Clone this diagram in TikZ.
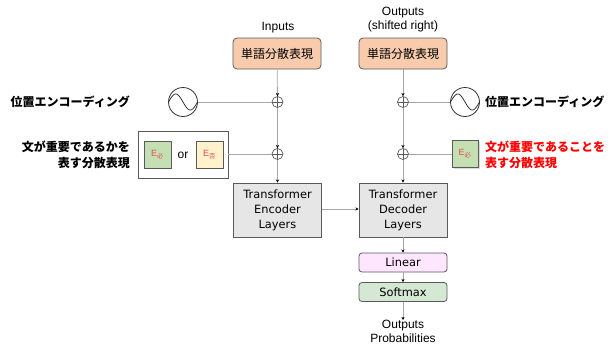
\documentclass[tikz,border=0pt]{standalone}
\usepackage{fontspec}
\setmainfont{Liberation Sans}
\newfontfamily\boxfont{DejaVu Sans}
\newfontfamily\jp{Noto Sans CJK JP}
\usetikzlibrary{arrows.meta,shapes.geometric}

\definecolor{wordfill}{HTML}{F8CBAD}
\definecolor{layerfill}{HTML}{E6E6E6}
\definecolor{linfill}{HTML}{FFE6FF}
\definecolor{softfill}{HTML}{D5E8D4}
\definecolor{yesfill}{HTML}{C5DFB4}
\definecolor{nofill}{HTML}{FFF2CC}
\definecolor{edgegray}{HTML}{5A5A5A}
\definecolor{wiregray}{HTML}{A6A6A6}
\definecolor{tagred}{HTML}{E84A4A}

\tikzset{
  wire/.style={draw=wiregray, line width=0.8bp},
  arr/.style={wire, -{Stealth[length=3.2bp,width=3.2bp,black]}},
  wordbox/.style={draw=edgegray, fill=wordfill, rounded corners=4bp, line width=0.8bp,
    minimum width=88bp, minimum height=31bp, inner sep=0pt,
    font=\fontsize{12bp}{14bp}\jp},
  layerbox/.style={draw=edgegray, fill=layerfill, line width=0.8bp,
    minimum width=88bp, minimum height=54bp, inner sep=0pt, align=center,
    font=\fontsize{11.4bp}{15bp}\boxfont},
  thinbox/.style={draw=edgegray, rounded corners=3bp, line width=0.8bp,
    minimum width=88bp, minimum height=19bp, inner sep=0pt,
    font=\fontsize{11.4bp}{14bp}\boxfont},
  plusnode/.style={circle, draw=edgegray, line width=0.7bp, minimum size=11bp, inner sep=0pt,
    path picture={\draw[edgegray, line width=0.7bp]
      (path picture bounding box.north) -- (path picture bounding box.south)
      (path picture bounding box.west) -- (path picture bounding box.east);}},
  sinenode/.style={circle, draw=black!80, line width=0.8bp, minimum size=29bp, inner sep=0pt},
  tagbox/.style={draw=edgegray, line width=0.8bp, minimum width=27bp, minimum height=27bp,
    inner sep=0pt, font=\fontsize{9bp}{10bp}\selectfont\color{tagred}},
  label/.style={font=\fontsize{12bp}{14bp}\selectfont, inner sep=0pt, align=center},
  jplabel/.style={font=\fontsize{12bp}{16bp}\jp\bfseries, inner sep=0pt},
}

\newcommand{\sinewave}[1]{%
  \draw[black!80, line width=0.8bp, shift={(#1)}]
    plot[domain=-1:1, samples=41, smooth] ({\x*14.5}, {8*sin(\x*180)});}

\begin{document}
\begin{tikzpicture}[x=1bp, y=-1bp]
  \useasboundingbox (0,0) rectangle (611,349);

  % headings
  \node[label] (inlbl) at (278,28) {Inputs};
  \node[label] (outlbl) at (403,20) {Outputs\\(shifted right)};

  % word embeddings
  \node[wordbox] (encword) at (277,53.5) {単語分散表現};
  \node[wordbox] (decword) at (403,53.5) {単語分散表現};

  % adders
  \node[plusnode] (eplus1) at (277.5,102) {};
  \node[plusnode] (eplus2) at (277.5,154) {};
  \node[plusnode] (dplus1) at (403,102) {};
  \node[plusnode] (dplus2) at (403,154) {};

  % positional encodings
  \node[sinenode] (esine) at (183,102) {};
  \node[sinenode] (dsine) at (465,102) {};
  \sinewave{esine.center}
  \sinewave{dsine.center}
  \node[jplabel, anchor=east] (eposlbl) at (130,102) {位置エンコーディング};
  \node[jplabel, anchor=west] (dposlbl) at (485,102) {位置エンコーディング};

  % importance embeddings, encoder side
  \node[draw=edgegray, line width=0.8bp, fill=white, minimum width=90bp, minimum height=47bp,
        inner sep=0pt] (choice) at (183,154.5) {};
  \node[tagbox, fill=yesfill] (eyes) at (157.5,154.5) {E\textsubscript{\jp 必}};
  \node[tagbox, fill=nofill] (eno) at (209.5,154.5) {E\textsubscript{\jp 否}};
  \node[font=\fontsize{12bp}{14bp}\selectfont, inner sep=0pt] (orlbl) at (183,155) {or};
  \node[jplabel, anchor=east, align=right] (eimplbl) at (130,155)
    {文が重要であるかを\\表す分散表現};

  % importance embedding, decoder side
  \fill[black!15] (453.5,141.5) rectangle (479.5,168.5);
  \node[tagbox, fill=yesfill, minimum width=26bp] (dyes) at (465,153.5) {E\textsubscript{\jp 必}};
  \node[jplabel, anchor=west, align=left, text=red] (dimplbl) at (485,155)
    {文が重要であることを\\表す分散表現};

  % layers
  \node[layerbox] (encoder) at (277.5,210) {Transformer\\Encoder\\Layers};
  \node[layerbox] (decoder) at (403,210) {Transformer\\Decoder\\Layers};
  \node[thinbox, fill=linfill] (linear) at (403,262.5) {Linear};
  \node[thinbox, fill=softfill] (softmax) at (403,292) {Softmax};
  \node[label, anchor=north] (problbl) at (403,320) {Outputs\\Probabilities};

  % connectors
  \draw[arr] (encword) -- (eplus1);
  \draw[arr] (eplus1) -- (eplus2);
  \draw[arr] (eplus2) -- (encoder);
  \draw[arr] (decword) -- (dplus1);
  \draw[arr] (dplus1) -- (dplus2);
  \draw[arr] (dplus2) -- (decoder);
  \draw[wire] (esine) -- (eplus1);
  \draw[wire] (dsine) -- (dplus1);
  \draw[wire] (choice.east |- eplus2) -- (eplus2);
  \draw[wire] (dyes.west |- dplus2) -- (dplus2);
  \draw[arr] (encoder.east |- 0,209) -- (decoder.west |- 0,209);
  \draw[arr] (decoder) -- (linear);
  \draw[arr] (linear) -- (softmax);
  \draw[arr] (softmax) -- (problbl);
\end{tikzpicture}
\end{document}
